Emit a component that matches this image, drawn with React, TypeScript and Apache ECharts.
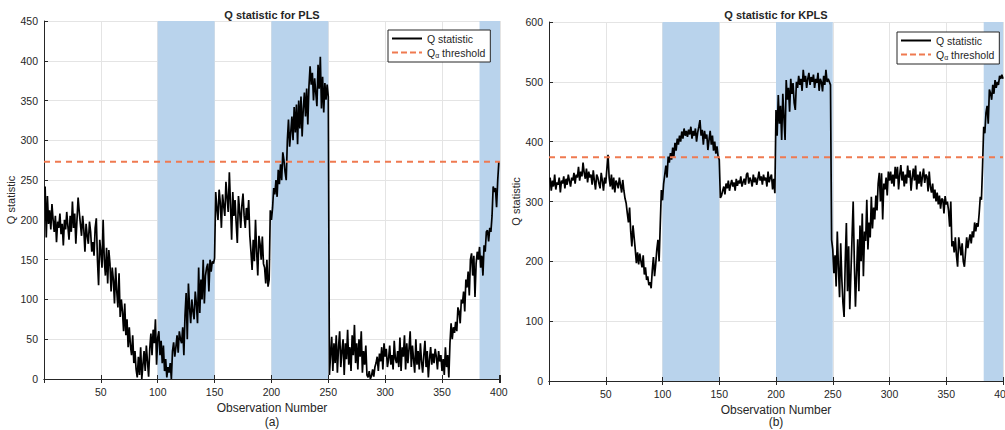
import React, { useEffect, useRef } from "react";
import * as echarts from "echarts";

// Q statistic per observation, PLS model
const plsQ = [
  242, 178, 230, 195, 212, 188, 220, 200, 185, 205,
  172, 198, 190, 208, 182, 195, 168, 200, 188, 210,
  192, 175, 205, 185, 223, 190, 208, 170, 200, 228,
  210, 195, 180, 205, 188, 160, 195, 180, 170, 198,
  185, 160, 172, 155, 190, 202, 150, 118, 175, 160,
  140, 200, 150, 130, 165, 120, 162, 145, 110, 140,
  125, 95, 140, 110, 90, 133, 78, 100, 85, 60,
  95, 55, 75, 40, 65, 42, 30, 55, 20, 35,
  12, 2, 28, 5, 40, 0, 18, 35, 10, 42,
  22, 3, 38, 57, 30, 62, 45, 75, 18, 52,
  60, 30, 48, 20, 42, 10, 25, 2, 15, 8,
  20, 0, 35, 46, 28, 40, 55, 33, 60, 50,
  45, 65, 30, 80, 108, 50, 120, 90, 70, 100,
  85, 75, 110, 95, 70, 140, 83, 125, 100, 150,
  95, 130, 140, 145, 110, 150, 135, 148, 145, 152,
  235, 215, 200, 238, 222, 190, 232, 218, 205, 248,
  228, 210, 260, 220, 175, 235, 205, 225, 196, 171,
  230, 212, 190, 218, 233, 205, 190, 215, 200, 225,
  180, 160, 137, 175, 148, 200, 160, 130, 180, 170,
  150, 179, 145, 140, 120, 150, 116, 125, 212, 200,
  215, 240, 232, 250, 229, 263, 245, 270, 250, 285,
  275, 260, 250, 300, 326, 292, 310, 330, 300, 342,
  310, 345, 295, 350, 315, 355, 305, 340, 360, 330,
  365, 320, 368, 393, 370, 385, 350, 378, 360, 343,
  395, 365, 405, 340, 380, 335, 372, 351, 370, 355,
  5, 30, 53, 10, 45, 20, 55, 8, 40, 60,
  15, 35, 50, 5, 45, 25, 62, 18, 40, 10,
  55, 30, 68, 20, 45, 12, 50, 28, 60, 8,
  35, 18, 42, 5, 2, 10, 0, 4, 12, 3,
  15, 20, 28, 10, 32, 22, 40, 12, 45, 28,
  38, 15, 25, 42, 18, 30, 12, 48, 25, 20,
  35, 15, 52, 10, 40, 28, 55, 12, 45, 20,
  38, 60, 15, 42, 25, 8, 50, 18, 35, 12,
  45, 22, 8, 30, 48, 15, 35, 2, 25, 40,
  18, 32, 20, 38, 28, 12, 35, 22, 30, 10,
  25, 5, 40, 15, 30, 2, 45, 70, 50, 65,
  58, 72, 60, 90, 85, 70, 100, 95, 110, 85,
  125, 115, 135, 105, 150, 158, 130, 155, 103, 145,
  160, 150, 166, 140, 155, 130, 168, 160, 185, 187,
  173, 190, 185, 205, 242, 235, 240, 216, 250, 273,
];

// Q statistic per observation, KPLS model
const kplsQ = [
  340, 318, 335, 325, 345, 320, 332, 328, 340, 315,
  335, 330, 342, 322, 338, 328, 345, 335, 325, 340,
  335, 348, 330, 345, 340, 358, 335, 350, 342, 365,
  348, 338, 355, 332, 350, 340, 345, 328, 352, 335,
  320, 345, 340, 330, 322, 348, 335, 318, 340, 330,
  355, 378, 340, 325, 345, 320, 340, 315, 335, 330,
  322, 340, 328, 315, 336, 318, 305, 297, 280, 265,
  290, 250, 225, 260, 240, 220, 197, 215, 195, 213,
  200, 190, 210, 178, 190, 169, 175, 160, 165, 155,
  185, 207, 175, 195, 220, 236, 200, 260, 319, 302,
  330, 345, 360, 340, 375, 365, 381, 370, 390, 375,
  398, 385, 405, 395, 410, 400, 417, 405, 422, 410,
  418, 408, 420, 412, 425, 405, 418, 410, 422, 400,
  415, 425, 436, 410, 420, 395, 418, 405, 412, 386,
  403, 418, 395, 410, 385, 400, 380, 392, 375, 370,
  306, 310, 318, 325, 312, 330, 322, 335, 318, 328,
  336, 325, 332, 318, 338, 326, 335, 330, 342, 325,
  332, 338, 328, 345, 348, 330, 340, 335, 325, 345,
  332, 340, 328, 338, 350, 335, 342, 328, 345, 335,
  340, 325, 350, 332, 340, 345, 320, 338, 314, 453,
  410, 478, 430, 460, 403, 480, 440, 403, 503, 470,
  490, 450, 505, 480, 498, 465, 453, 500, 490, 510,
  495, 505, 485, 520, 500, 510, 490, 505, 515, 495,
  508, 500, 512, 490, 505, 498, 515, 485, 505, 500,
  484, 510, 495, 520, 500, 505, 500, 495, 236, 220,
  180, 210, 158, 250, 190, 140, 230, 170, 130, 107,
  200, 264, 150, 225, 120, 180, 240, 300, 200, 124,
  180, 237, 150, 260, 200, 280, 175, 250, 234, 303,
  220, 265, 240, 308, 255, 290, 270, 310, 285, 330,
  348, 300, 347, 270, 330, 320, 340, 310, 350, 335,
  350, 330, 345, 325, 358, 338, 358, 320, 345, 361,
  335, 350, 325, 345, 330, 360, 340, 352, 318, 340,
  355, 335, 360, 320, 345, 330, 350, 325, 342, 355,
  331, 345, 342, 317, 350, 325, 315, 330, 305, 320,
  300, 315, 295, 310, 288, 305, 303, 280, 309, 295,
  300, 285, 258, 300, 225, 234, 215, 240, 210, 191,
  240, 225, 210, 230, 200, 191, 215, 240, 222, 235,
  245, 230, 250, 240, 265, 250, 264, 258, 280, 308,
  303, 360, 425, 414, 448, 460, 430, 487, 481, 470,
  495, 480, 503, 490, 500, 495, 510, 505, 512, 505,
];

// Control limits
const plsThreshold = 273;
const kplsThreshold = 374;

// Faulty observation windows [start, end]
const plsFaultWindows: [number, number][] = [[100, 150], [200, 250], [383, 401]];
const kplsFaultWindows: [number, number][] = [[100, 150], [200, 250], [383, 400]];

// Axis extents
const plsX: [number, number] = [0, 401];
const kplsX: [number, number] = [0, 400];
const plsY = { max: 450, step: 50 };
const kplsY = { max: 600, step: 100 };
const xStep = 50;

const panelTitles = ["Q statistic for PLS", "Q statistic for KPLS"];
const panelTags = ["(a)", "(b)"];
const seriesNames = ["Q statistic", "Q\u03b1 threshold"];

const FONT = "'Liberation Sans', Arial, Helvetica, sans-serif";
const INK = "#262626";
const SHADE = "#b9d3ec";
const THRESH = "#ef7a50";
const GRIDLINE = "#e4e4e4";

// legend glyphs: a solid stroke and a dashed stroke
const SOLID_ICON = "path://M0,0h30v2h-30z";
const DASH_ICON = "path://M0,0h6v2h-6z M9,0h6v2h-6z M18,0h6v2h-6z M27,0h3v2h-3z";

const grids = [
  { left: 44, top: 21, width: 456, height: 358 },
  { left: 549, top: 22, width: 454, height: 359 },
];

function App() {
  const ref = useRef<HTMLDivElement>(null);

  useEffect(() => {
    document.body.style.margin = "0";
    if (!ref.current) return;
    const chart = echarts.init(ref.current, undefined, { renderer: "svg" });

    const panels = [
      { q: plsQ, thr: plsThreshold, win: plsFaultWindows, xr: plsX, y: plsY },
      { q: kplsQ, thr: kplsThreshold, win: kplsFaultWindows, xr: kplsX, y: kplsY },
    ];

    const xAxis: any[] = [];
    const yAxis: any[] = [];
    const series: any[] = [];

    panels.forEach((p, i) => {
      // bottom axis: labels, ticks, axis line
      xAxis.push({
        type: "value",
        gridIndex: i,
        min: p.xr[0],
        max: p.xr[1],
        interval: xStep,
        position: "bottom",
        z: 4,
        name: "Observation Number",
        nameLocation: "middle",
        nameGap: 18,
        nameTextStyle: { fontFamily: FONT, fontSize: 12, color: INK },
        axisLine: { show: true, onZero: false, lineStyle: { color: INK, width: 1 } },
        axisTick: { show: true, inside: true, length: 4, lineStyle: { color: INK } },
        axisLabel: {
          fontFamily: FONT,
          fontSize: 10.5,
          color: INK,
          margin: 7,
          formatter: (v: number) => (v > 0 && v % xStep === 0 ? String(v) : ""),
        },
        splitLine: { show: false },
      });
      // top axis: frame edge and vertical grid lines
      xAxis.push({
        type: "value",
        gridIndex: i,
        min: p.xr[0],
        max: p.xr[1],
        interval: xStep,
        position: "top",
        axisLine: { show: true, lineStyle: { color: INK, width: 1 } },
        axisTick: { show: true, inside: true, length: 4, lineStyle: { color: INK } },
        axisLabel: { show: false },
        splitLine: { show: true, lineStyle: { color: GRIDLINE, width: 1 } },
      });
      yAxis.push({
        type: "value",
        gridIndex: i,
        min: 0,
        max: p.y.max,
        interval: p.y.step,
        name: "Q statistic",
        nameLocation: "middle",
        nameGap: 27,
        nameTextStyle: { fontFamily: FONT, fontSize: 11, color: INK },
        axisLine: { show: true, lineStyle: { color: INK, width: 1 } },
        axisTick: { show: true, inside: true, length: 4, lineStyle: { color: INK } },
        axisLabel: { fontFamily: FONT, fontSize: 10.5, color: INK, margin: 6 },
        splitLine: { show: true, lineStyle: { color: GRIDLINE, width: 1 } },
      });

      series.push({
        name: seriesNames[0],
        type: "line",
        xAxisIndex: i * 2,
        yAxisIndex: i,
        data: p.q.map((v, k) => [k + 1, v]),
        symbol: "none",
        showSymbol: false,
        z: 3,
        lineStyle: { color: "#000000", width: 1.7 },
        itemStyle: { color: "#000000" },
        markArea: {
          silent: true,
          itemStyle: { color: SHADE, opacity: 1 },
          data: p.win.map(([a, b]) => [{ xAxis: a }, { xAxis: b }]),
        },
      });
      series.push({
        name: seriesNames[1],
        type: "line",
        xAxisIndex: i * 2,
        yAxisIndex: i,
        data: [
          [p.xr[0], p.thr],
          [p.xr[1], p.thr],
        ],
        symbol: "none",
        showSymbol: false,
        z: 5,
        lineStyle: { color: THRESH, width: 2, type: [6, 5] },
        itemStyle: { color: THRESH },
      });
    });

    const legendBase = {
      orient: "vertical",
      data: [
        { name: seriesNames[0], icon: SOLID_ICON },
        { name: seriesNames[1], icon: DASH_ICON },
      ],
      backgroundColor: "#ffffff",
      borderColor: INK,
      borderWidth: 1,
      padding: [3, 5, 3, 4],
      itemGap: 3,
      itemWidth: 30,
      itemHeight: 10,
      symbolKeepAspect: true,
      selectedMode: false,
      textStyle: {
        fontFamily: FONT,
        fontSize: 10.5,
        color: INK,
        rich: { sub: { fontFamily: FONT, fontSize: 7, color: INK, verticalAlign: "bottom", padding: [6, 0, 0, 0] } },
      },
      formatter: (name: string) => (name === seriesNames[1] ? "Q{sub|\u03b1} threshold" : name),
    };

    const graphic: any[] = [];
    grids.forEach((g, i) => {
      const cx = g.left + g.width / 2;
      graphic.push({
        type: "text",
        x: cx,
        y: 15,
        z: 10,
        style: {
          text: panelTitles[i],
          textAlign: "center",
          textVerticalAlign: "middle",
          fontFamily: FONT,
          fontSize: 11,
          fontWeight: "bold",
          fill: INK,
        },
      });
      graphic.push({
        type: "text",
        x: cx,
        y: 422,
        z: 10,
        style: {
          text: panelTags[i],
          textAlign: "center",
          textVerticalAlign: "middle",
          fontFamily: FONT,
          fontSize: 12,
          fill: INK,
        },
      });
    });

    chart.setOption({
      animation: false,
      backgroundColor: "#ffffff",
      grid: grids.map((g) => ({ ...g, containLabel: false, outerBoundsMode: "none" })),
      xAxis,
      yAxis,
      series,
      legend: [
        { ...legendBase, left: 388, top: 30 },
        { ...legendBase, left: 897, top: 32 },
      ],
      graphic,
    });

    return () => chart.dispose();
  }, []);

  return <div ref={ref} style={{ width: 1005, height: 430 }} />;
}

export default App;
